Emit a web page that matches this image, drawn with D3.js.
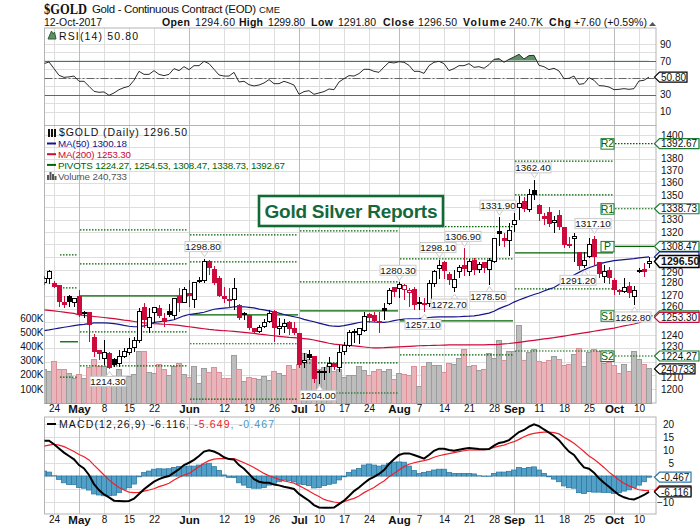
<!DOCTYPE html>
<html>
<head>
<meta charset="utf-8">
<script src="https://cdn.jsdelivr.net/npm/d3@7"></script>
<style>
  html, body { margin: 0; padding: 0; background: #fff; }
  svg { display: block; font-family: "Liberation Sans", Arial, sans-serif; }
</style>
</head>
<body>
<script>
// trading calendar
const holidays = ["2017-05-29", "2017-07-04", "2017-09-04", "2017-10-09"];
const fmtDay = d3.utcFormat("%Y-%m-%d");
const days = d3.utcDays(new Date("2017-04-20"), new Date("2017-10-13"))
  .filter(d => d.getUTCDay() % 6 !== 0 && !holidays.includes(fmtDay(d)))
  .map(fmtDay);

const tickDates = ["2017-04-24","2017-05-01","2017-05-08","2017-05-15","2017-05-22","2017-06-01","2017-06-12","2017-06-19","2017-06-26","2017-07-03","2017-07-10","2017-07-17","2017-07-24","2017-08-01","2017-08-07","2017-08-14","2017-08-21","2017-08-28","2017-09-01","2017-09-11","2017-09-18","2017-09-25","2017-10-02","2017-10-10"];
const tickLabels = ["24","May","8","15","22","Jun","12","19","26","Jul","10","17","24","Aug","7","14","21","28","Sep","11","18","25","Oct","10"];
const monthLabels = ["May","Jun","Jul","Aug","Sep","Oct"];

const priceTicks = [1200,1210,1220,1230,1240,1250,1260,1270,1280,1290,1300,1310,1320,1330,1340,1350,1360,1370,1380,1390,1400];
const priceLabelTicks = [1200,1210,1230,1240,1260,1270,1280,1290,1320,1330,1350,1360,1370,1380,1400];
const volumeTicks = [100,200,300,400,500,600];
const rsiTicks = [10,30,70,90];
const rsiGrid = [10,20,30,40,50,60,70,80,90];
const macdTicks = [-10,-5,0,5,10,15,20];
const macdLabelTicks = [-10,5,10,15,20];

const opens = [
  1280,1283,1279,1277.5,1265,1269,1264.3,1269,1257,1256.7,
  1237.9,1228,1222.2,1225.9,1221.4,1218.5,1223.6,1226.6,1230.4,1235.6,
  1260.6,1245.5,1256.7,1259.8,1252.2,1257.5,1254.5,1269,1264.3,1271.3,
  1266.6,1281.4,1281.4,1296.2,1290,1283,1269,1265.9,1266.6,1262.1,
  1256.3,1254.5,1244.7,1242.4,1246.2,1250,1257.5,1244.7,1246.2,1249.2,
  1244.7,1240.9,1219.2,1225.1,1223.6,1212.5,1212.5,1216.2,1218.5,1215.5,
  1227.3,1231.9,1241.6,1240.1,1243.2,1255.2,1254.5,1250,1259.8,1263.6,
  1276,1275.2,1274.4,1272,1274.4,1264.6,1263.6,1263.6,1279.1,1290.8,
  1295.5,1286.1,1276,1288.4,1293.1,1288.4,1297,1290,1295.5,1290,
  1296.2,1320.1,1314.5,1312.9,1325.8,1339.5,1344.3,1337.9,1353.4,1341.1,
  1332.2,1335.4,1327.4,1333,1323.3,1309.6,1314.5,1304,1293.1,1300.2,
  1313.7,1295.5,1284.5,1289.2,1281.4,1273.6,1272.8,1276.8,1269,1289.6,
  1290,1294.6];
const highs = [
  1285,1290,1281,1278,1269.7,1270.5,1268.2,1274.4,1258.2,1257.5,
  1240.9,1228,1236.4,1227.3,1222.9,1228.8,1230.4,1237.9,1238.6,1260.6,
  1264.3,1260.6,1261.3,1262.8,1256.7,1263.6,1268.2,1276,1276.8,1282.2,
  1280.6,1284.5,1298.8,1297.8,1293.1,1285.3,1276.8,1276,1283.8,1263.6,
  1257.5,1255.2,1245.5,1247.7,1252.2,1259,1259,1253,1252.2,1250.7,
  1250,1241.6,1226.6,1228.8,1223.6,1214,1216.2,1223.6,1219.2,1232.6,
  1234.9,1243.9,1244.7,1245.5,1257.5,1256.7,1257.5,1257.5,1264.3,1276,
  1276.8,1280.3,1279.1,1276,1276.8,1269,1268.2,1282.2,1290,1298.1,
  1297,1288.4,1290,1293.9,1306.9,1298.6,1299.4,1296.2,1296.2,1299.4,
  1315.3,1331.9,1319.3,1327.4,1335.4,1349.2,1348.4,1355,1362.4,1342.7,
  1335.4,1340.3,1333,1337.9,1323.3,1316.1,1319.3,1304,1304,1315.3,
  1317.1,1296.2,1293.9,1292.4,1283.8,1275.2,1283.8,1280.6,1277.5,1291.6,
  1295.5,1299.8];
const lows = [
  1278,1279,1276,1261.5,1260.6,1261.3,1261.3,1253.7,1253,1234.9,
  1223.6,1221.4,1217.7,1214.3,1216.2,1216.2,1222.9,1225.1,1227.3,1234.1,
  1245.5,1241.6,1249.2,1253,1246.2,1253.7,1251.5,1257.5,1264.3,1261.3,
  1260.6,1279.9,1279.9,1285.9,1278.3,1268.9,1264.3,1260.6,1259,1251.5,
  1251.5,1243.9,1241.6,1241.6,1245.5,1249.2,1234.9,1240.1,1241.6,1240.1,
  1240.1,1215.5,1215.5,1221.4,1204.3,1204,1206.5,1211.8,1214,1212.5,
  1225.1,1231.1,1234.1,1233.4,1242.4,1249.2,1250,1241.6,1251.5,1262.9,
  1268.9,1268.2,1266.6,1261.3,1259,1259,1257.1,1261.3,1276.8,1283,
  1283,1278.3,1272.7,1283.8,1285.3,1285.3,1286.1,1287.6,1287.6,1278.5,
  1295.5,1308.8,1308,1300.9,1320.1,1329.8,1336.2,1336.2,1345.9,1329,
  1325.8,1324.2,1319.3,1321.7,1307.2,1307.2,1296.2,1290,1291.2,1299.4,
  1293.9,1283.8,1280,1279.1,1270.5,1270.5,1272,1268.2,1262.8,1287.6,
  1284.5,1291.8];
const closes = [
  1283,1288.4,1276.8,1265.8,1262.8,1265.1,1267.4,1255.2,1256,1247.7,
  1227.3,1225.9,1226.6,1215.5,1217.7,1223.6,1227.3,1229.6,1235.6,1257.5,
  1251.5,1253,1260.6,1254.5,1250,1255.2,1267.4,1264.3,1274.4,1269.7,
  1279.9,1280.6,1296.2,1291.6,1279.9,1269.7,1267.4,1267,1275.2,1253,
  1255.6,1245.5,1242.4,1245.5,1249.2,1256,1245.5,1246.2,1248.5,1244.7,
  1241.6,1217.7,1220.6,1222.9,1208,1211.8,1212,1218.5,1216.2,1226.6,
  1231.9,1241.6,1242.4,1244.7,1253.7,1253,1250.7,1249.2,1258.2,1273.6,
  1272.8,1278.3,1277.5,1273.6,1262.8,1263.6,1262.8,1279.1,1288.4,1293.1,
  1289.2,1282.2,1282.2,1291.6,1290.8,1296.2,1290,1293.9,1291.6,1297,
  1314.5,1318.5,1312.9,1320.9,1329,1342.7,1338.7,1350,1350.4,1334.6,
  1330.6,1326.6,1329,1324.2,1309.6,1308.8,1316.1,1293.1,1297,1309.6,
  1300.2,1286.9,1288.4,1283.8,1274.4,1272.8,1276,1272,1273.6,1289.1,
  1288.9,1296.5];
// thousands
const volumes = [
  240,220,290,240,236,205,172,198,172,248,
  304,260,255,175,172,234,186,186,198,363,
  363,212,205,269,240,191,255,278,198,179,
  255,135,243,212,248,212,172,172,333,240,
  149,177,170,165,184,156,222,205,196,262,
  236,269,349,307,182,236,250,262,222,240,
  177,195,195,255,229,196,224,236,219,236,
  165,205,203,196,260,120,260,283,264,264,
  217,278,269,312,378,255,262,227,240,347,
  314,441,300,361,366,547,300,354,378,290,
  283,300,326,307,264,271,340,382,255,354,
  378,366,276,283,267,205,271,219,363,307,
  269,240.7];
const ma50 = [
  1243.2,1243.8,1244.5,1245.2,1245.8,1246.4,1247,1247.6,1248,1248.6,
  1249.2,1249.2,1249.2,1248.9,1248.5,1248,1247.2,1246.6,1246.2,1246.2,
  1246.8,1248,1249.5,1250,1250.4,1250.8,1251.5,1253,1254.5,1255.5,
  1256,1256.5,1257.2,1258.4,1259.5,1260,1260.4,1260.8,1261.4,1261.6,
  1261.4,1261,1260.5,1259.6,1259,1258.3,1257.5,1256.5,1255.5,1254.6,
  1253.8,1253,1251.8,1250.8,1250,1249,1248,1247.1,1246.6,1246.5,
  1247,1247.8,1248.6,1249.4,1250,1250,1249.8,1249.5,1249.5,1250,
  1250.8,1251.5,1252,1252.2,1252.2,1252.4,1252.8,1253.2,1253.5,1253.7,
  1253.7,1253.7,1253.7,1253.8,1254,1254.2,1254.5,1255,1255.8,1256.6,
  1258,1260,1261.5,1263,1265,1266.6,1268,1269.5,1270.8,1272,
  1273.5,1275,1276.2,1278.5,1281,1283.5,1286,1288,1290,1291.6,
  1293,1294.5,1295.6,1296.4,1297.2,1297.6,1298,1298.4,1298.8,1299.4,
  1299.8,1300.18];
const ma200 = [
  1259,1258.6,1258.2,1257.8,1257.3,1256.8,1256.3,1255.2,1254.8,1254.4,
  1254,1253.6,1253.2,1252.8,1252.3,1251.8,1251.2,1250.8,1250.2,1249.6,
  1249.2,1248.9,1248.6,1248.4,1248.1,1247.9,1247.6,1247.2,1246.7,1246.2,
  1245.7,1245.2,1244.7,1244.2,1243.8,1243.5,1243.2,1243,1242.7,1242.4,
  1242,1241.6,1241.2,1240.6,1240.2,1239.8,1239.4,1239,1238.6,1238.2,
  1238,1237.7,1237.3,1236.9,1236.2,1235.4,1234.6,1233.8,1233.2,1232.8,
  1232.4,1232.2,1231.8,1231.4,1231,1230.6,1230.4,1230.4,1230.5,1230.7,
  1230.9,1231.1,1231.3,1231.5,1231.7,1231.9,1232,1232.1,1232.2,1232.3,
  1232.4,1232.5,1232.6,1232.6,1232.6,1232.6,1232.6,1232.6,1232.6,1232.7,
  1232.8,1233,1233.3,1233.6,1234,1234.5,1235,1235.5,1236,1236.5,
  1237,1237.5,1238,1238.6,1239.2,1239.8,1240.4,1241,1241.6,1242.2,
  1242.8,1243.4,1244,1244.6,1245.2,1246,1246.8,1247.5,1248.3,1249.2,
  1251,1253.3];
const rsi = [
  66.7,68.7,60.8,52.9,50.5,51,52,45.8,45.8,39.9,
  33.9,32.8,33.2,29.2,32,35.9,38.3,39.9,47,57.6,
  54,54,58.4,54,52.5,54,60.8,58.4,63.1,59.6,
  64.3,64.3,69.4,66.7,60,53.3,52,52,56.4,45,
  45.8,41.8,40.3,41.4,43.8,47.8,43,43,45.8,43.8,
  41.4,30.4,33.6,34.7,30.4,32,33.6,36.7,35.9,45,
  48.9,52.5,52,54.9,60,60,57.6,56.4,62.7,68.3,
  67.5,69,68.3,64.7,57.6,57.6,55.2,64.3,68.3,69.4,
  66.7,58.4,60.8,64.3,64.3,66.7,62.3,63.1,61.2,65.5,
  71.8,72.6,68.3,71.8,74.6,77.7,72.2,76.2,76.5,64.7,
  63.1,59.6,61.2,58,48.9,49.3,52,42.2,43,50.1,
  47,40.7,40.3,39,35.9,36.3,37.1,36.3,37.1,46.2,
  47,50.8];
const macd = [
  13.6,13.6,12.2,10.6,9,7.7,6.4,4.2,2.9,0.4,
  -3.1,-5.4,-7.1,-8.2,-9.5,-9.6,-9.7,-9.6,-8.7,-6.9,
  -5.1,-3.6,-2.2,-1.2,-0.5,0,1.3,2.6,4.2,5.1,
  6.2,7.7,9.4,9.9,9.4,8.5,7.2,6.5,6.3,4.2,
  2.8,0.8,-1.2,-2.2,-2.6,-2.6,-3.3,-3.6,-4.1,-4.5,
  -5,-6.9,-8.2,-9.5,-11.2,-12.1,-12.2,-12.2,-12.1,-10.8,
  -9.5,-7.7,-5.8,-4.4,-2.8,-1.3,-0.3,0.8,2.3,4.6,
  6.4,8.1,8.7,8.7,8.1,7.4,6.7,8.1,9.7,10.5,
  10.5,10,9.7,10.1,10.5,10.8,10.6,10.4,10.3,10.4,
  11.7,12.7,13.1,13.8,15.4,16.9,17.7,19,19.9,19.2,
  17.9,16.7,15.4,13.8,11.5,9.4,8.1,5.5,3.3,2.8,
  1.3,-0.9,-2.6,-4.1,-5.8,-7.3,-8.2,-8.8,-9,-8.2,
  -7.3,-6.116];
const macdSignal = [
  11.5,11.9,12.2,11.9,11.3,10.4,9.4,8.3,7.4,6.2,
  4.2,2.3,0.4,-1.5,-3.1,-4.4,-5.4,-6.2,-6.4,-6.3,
  -5.8,-5.4,-4.9,-4.1,-3.5,-2.8,-1.5,-0.5,0.4,1,
  2.3,3.6,4.9,5.9,6.5,6.7,6.7,6.7,6.7,5.9,
  5.1,4.2,3.3,2.1,1,0.1,-0.6,-1.3,-1.9,-2.3,
  -2.8,-3.7,-4.7,-5.8,-6.9,-7.9,-9,-9.6,-10,-10.3,
  -9.9,-9.2,-8.6,-7.7,-6.4,-5.4,-4.4,-3.1,-1.9,-0.3,
  1,2.3,3.6,4.5,5.1,5.5,5.9,6.4,7.2,7.8,
  8.2,8.6,9,9.4,9.7,10,10,10,10.1,10.3,
  11,11.5,11.9,12.6,13.2,14.1,15.1,15.9,16.4,16.7,
  16.9,16.9,16.7,16.2,14.9,13.8,12.6,11,9.4,7.7,
  6.4,4.9,3.3,1.5,0,-1.5,-2.8,-3.8,-4.6,-5.3,
  -5.5,-5.649];
const macdHist = [
  1.9,1.5,0.1,-1.3,-2.6,-3.3,-3.3,-4.4,-4.7,-5.4,
  -6.9,-7.3,-7.6,-7.6,-7.4,-6.4,-5.1,-4.5,-3.1,-0.3,
  1.3,1.9,2.6,2.8,2.7,2.8,3.3,3.6,3.6,3.8,
  3.8,4.2,4.6,4.9,3.6,2.1,0.4,-0.5,-0.6,-2.6,
  -3.5,-4.4,-4.7,-4.7,-4.4,-3.5,-2.8,-2.2,-1.5,-1.8,
  -2.3,-3.1,-3.3,-3.7,-4.6,-4.4,-3.7,-3.2,-2.8,-1.5,
  -0.3,1.4,2.3,2.9,4.2,4.6,4.2,3.8,4.2,4.9,
  5.3,5.4,5.3,3.8,2.1,1,1.4,1.8,2.3,2.6,
  2.6,1.4,1,1,1,1,0.8,0.1,-0.1,-0.1,
  1,1.5,1.5,1.8,2.3,3.3,2.9,3.3,3.5,2.3,
  1,-0.3,-1.2,-2.2,-3.8,-4.5,-4.7,-6.4,-6.7,-6,
  -6.2,-6.2,-6.3,-6.3,-6.7,-6.4,-5.8,-5.3,-4.4,-3.5,
  -2.2,-0.467];

// monthly pivot levels
const pivotStarts = ["2017-04-25","2017-05-01","2017-06-01","2017-07-03","2017-08-01","2017-09-01","2017-10-02"];
const pivotR2 = [1301.7,1321.7,1317.7,1320.9,1324.2,1378,1392.67];
const pivotR1 = [1276,1294.7,1296.2,1280.6,1298.6,1350,1338.73];
const pivotP  = [1234.9,1269.7,1255.2,1258.2,1250.7,1303.3,1308.47];
const pivotS1 = [1208.7,1242.4,1233.4,1219.2,1225.1,1275.2,1254.53];
const pivotS2 = [null,1217,1192.7,1197.1,null,1228,1224.27];

const peakDates = ["2017-06-06","2017-05-09","2017-07-10","2017-08-01","2017-08-08","2017-08-11","2017-08-18","2017-08-16","2017-08-25","2017-08-29","2017-09-08","2017-09-26","2017-09-22","2017-10-06"];
const peakTexts = ["1298.80","1214.30","1204.00","1280.30","1257.10","1298.10","1306.90","1272.70","1278.50","1331.90","1362.40","1317.10","1291.20","1262.80"];

// geometry of the panels
const W = 700, H = 530, L = 44.5, R = 656;
const rsiTop = 28, rsiBot = 125.5, priceBot = 403, macdTop = 417, macdBot = 514;

const x = d3.scalePoint().domain(days).range([44, 649]);
const yP = d3.scaleLog().domain([1200, 1400]).range([389, 135]);
const yV = d3.scaleLinear().domain([0, 600]).range([priceBot, 318]);
const yR = d3.scaleLinear().domain([0, 100]).range([120, 35.5]);
const yM = d3.scaleLinear().domain([-10, 20]).range([502, 424]);

const svg = d3.select("body").append("svg").attr("width", W).attr("height", H);
const crimson = "#cc0a3c", navy = "#14148c", green = "#006400";

// clip for everything inside the panels
const defs = svg.append("defs");
defs.append("clipPath").attr("id", "plot").append("rect").attr("x", L).attr("y", 0).attr("width", R - L).attr("height", H);
defs.append("clipPath").attr("id", "over70").append("rect").attr("x", L).attr("y", 0).attr("width", R - L).attr("height", yR(70));

function frame(top, bottom, hticks, yS) {
  const g = svg.append("g");
  g.selectAll(".h").data(hticks).join("line")
    .attr("x1", L).attr("x2", R).attr("y1", d => Math.round(yS(d)) + .5).attr("y2", d => Math.round(yS(d)) + .5)
    .attr("stroke", "#dedede");
  g.selectAll(".v").data(tickDates).join("line")
    .attr("x1", d => x(d) + .5).attr("x2", d => x(d) + .5).attr("y1", top).attr("y2", bottom)
    .attr("stroke", (d, i) => monthLabels.includes(tickLabels[i]) ? "#bcbcbc" : "#dedede");
  g.append("rect").attr("x", L).attr("y", top).attr("width", R - L).attr("height", bottom - top)
    .attr("fill", "none").attr("stroke", "#b4b4b4");
}
frame(rsiTop, rsiBot, rsiGrid, yR);
frame(rsiBot, priceBot, priceTicks, yP);
frame(macdTop, macdBot, macdTicks, yM);

// header
const head = svg.append("g").attr("fill", "#111");
head.append("text").attr("x", 44).attr("y", 14).attr("font-family", "Liberation Serif").attr("font-weight", "bold")
  .attr("font-size", 15).attr("textLength", 43).attr("lengthAdjust", "spacingAndGlyphs").text("$GOLD");
head.append("text").attr("x", 92).attr("y", 13).attr("font-size", 11.5).attr("textLength", 164).text("Gold - Continuous Contract (EOD)");
head.append("text").attr("x", 259).attr("y", 13).attr("font-size", 9.5).attr("textLength", 21).text("CME");
head.append("text").attr("x", 44).attr("y", 26).attr("font-size", 10.5).attr("textLength", 58).text("12-Oct-2017");
const quoteStarts = [162, 195, 239, 268, 311, 338, 383, 418, 463, 509, 549, 574];
const quoteEnds = [190, 235, 263, 305, 333, 376, 414, 457, 506, 543, 571, 647];
const quoteTexts = ["Open","1294.60","High","1299.80","Low","1291.80","Close","1296.50","Volume","240.7K","Chg","+7.60 (+0.59%)"];
head.selectAll(".q").data(quoteTexts).join("text")
  .attr("x", (d, i) => quoteStarts[i]).attr("y", 26).attr("font-size", 10.5)
  .attr("textLength", (d, i) => quoteEnds[i] - quoteStarts[i])
  .attr("font-weight", (d, i) => i % 2 || i === 11 ? "normal" : "bold").text(d => d);
head.append("path").attr("d", "M649 26 L652.5 22 L656 26 Z").attr("fill", "#555");

// volume bars
const volG = svg.append("g").attr("shape-rendering", "crispEdges").attr("clip-path", "url(#plot)");
volG.selectAll("rect").data(days).join("rect")
  .attr("x", d => x(d) - 2.5).attr("width", 5)
  .attr("y", (d, i) => yV(volumes[i])).attr("height", (d, i) => priceBot - yV(volumes[i]))
  .attr("fill", (d, i) => i && closes[i] < closes[i - 1] ? "#e8b6ba" : "#bdbdbd")
  .attr("stroke", (d, i) => i && closes[i] < closes[i - 1] ? "#dc8f98" : "#9c9c9c");

// pivots
const pivotSets = [["R2", pivotR2], ["R1", pivotR1], ["P", pivotP], ["S1", pivotS1], ["S2", pivotS2]];
const pivG = svg.append("g");
pivotSets.forEach(([name, vals]) => {
  pivotStarts.forEach((s, i) => {
    if (vals[i] == null) return;
    const last = i === pivotStarts.length - 1;
    const x2 = last ? R - 2 : x(pivotStarts[i + 1]) - 1;
    pivG.append("line").attr("x1", x(s) + 1).attr("x2", x2)
      .attr("y1", yP(vals[i])).attr("y2", yP(vals[i]))
      .attr("stroke", green).attr("stroke-width", name === "P" ? 1.3 : 1.2)
      .attr("stroke-dasharray", name === "P" ? null : "1.5,1.5");
    if (last) {
      pivG.append("rect").attr("x", x(s) - 13).attr("y", yP(vals[i]) - 5).attr("width", 13).attr("height", 10.5)
        .attr("fill", "#fff").attr("stroke", "#1d7a33");
      pivG.append("text").attr("x", x(s) - 6.5).attr("y", yP(vals[i]) + 3.8).attr("text-anchor", "middle")
        .attr("font-size", 10.5).attr("fill", green).text(name);
    }
  });
});

// moving averages
const lineOf = (vals, y) => d3.line().x((d, i) => x(days[i])).y(d => y(d))(vals);
const maG = svg.append("g").attr("clip-path", "url(#plot)").attr("fill", "none");
maG.append("path").attr("d", lineOf(ma200, yP)).attr("stroke", crimson).attr("stroke-width", 1.2);
maG.append("path").attr("d", lineOf(ma50, yP)).attr("stroke", navy).attr("stroke-width", 1.2);

// candles
const candG = svg.append("g").attr("clip-path", "url(#plot)").attr("shape-rendering", "crispEdges");
const candle = candG.selectAll("g").data(days).join("g");
const candleColor = i => i && closes[i] < closes[i - 1] ? crimson : "#000";
candle.append("line")
  .attr("x1", d => x(d) + .5).attr("x2", d => x(d) + .5)
  .attr("y1", (d, i) => yP(highs[i])).attr("y2", (d, i) => yP(lows[i]))
  .attr("stroke", (d, i) => candleColor(i));
candle.append("rect")
  .attr("x", d => x(d) - 1.5).attr("width", 4)
  .attr("y", (d, i) => yP(Math.max(opens[i], closes[i])))
  .attr("height", (d, i) => Math.max(1, Math.abs(yP(opens[i]) - yP(closes[i]))))
  .attr("fill", (d, i) => closes[i] < opens[i] ? candleColor(i) : "#fff")
  .attr("stroke", (d, i) => candleColor(i));

// high / low callouts
const peakG = svg.append("g");
const nudge = { "1291.20": -5, "1272.70": -4 };
peakDates.forEach((d, k) => {
  const i = days.indexOf(d);
  const txt = peakTexts[k];
  const isHigh = Math.abs(highs[i] - +txt) < Math.abs(lows[i] - +txt);
  const tip = isHigh ? yP(highs[i]) : yP(lows[i]);
  const cx = x(d) - 1 + (nudge[txt] || 0);
  const top = isHigh ? tip - 17 : tip + 7;
  peakG.append("path")
    .attr("d", `M${x(d) - 3} ${isHigh ? top + 10 : top} L${x(d) + .5} ${isHigh ? top + 15 : top - 5} L${x(d) + 4} ${isHigh ? top + 10 : top} Z`)
    .attr("fill", "#fff").attr("stroke", "#ccc");
  peakG.append("rect").attr("x", cx - 18).attr("y", top).attr("width", 36).attr("height", 10)
    .attr("fill", "#fff").attr("stroke", "#ccc");
  peakG.append("text").attr("x", cx).attr("y", top + 8.6).attr("text-anchor", "middle")
    .attr("font-size", 9.8).attr("fill", "#111").text(txt);
});

// watermark
const wm = svg.append("g");
wm.append("rect").attr("x", 259).attr("y", 196).attr("width", 184).attr("height", 30)
  .attr("fill", "#fff").attr("stroke", "#0f6b33").attr("stroke-width", 2.6);
wm.append("text").attr("x", 351).attr("y", 218).attr("text-anchor", "middle")
  .attr("font-size", 19).attr("font-weight", "bold").attr("fill", "#15683c")
  .attr("textLength", 173).text("Gold Silver Reports");

// RSI
const rsiG = svg.append("g").attr("clip-path", "url(#plot)");
rsiG.append("path").attr("clip-path", "url(#over70)")
  .attr("d", d3.area().x((d, i) => x(days[i])).y0(yR(70)).y1(d => yR(d))(rsi))
  .attr("fill", "#5f8f68");
[70, 30].forEach(v => rsiG.append("line").attr("x1", L).attr("x2", R).attr("y1", Math.round(yR(v)) + .5).attr("y2", Math.round(yR(v)) + .5).attr("stroke", "#666"));
rsiG.append("line").attr("x1", L).attr("x2", R).attr("y1", Math.round(yR(50)) + .5).attr("y2", Math.round(yR(50)) + .5)
  .attr("stroke", "#666").attr("stroke-dasharray", "8,2,2,2");
rsiG.append("path").attr("d", lineOf(rsi, yR)).attr("fill", "none").attr("stroke", "#2b2b2b").attr("stroke-width", 1);

// MACD
const macdG = svg.append("g").attr("clip-path", "url(#plot)");
macdG.selectAll("rect").data(days).join("rect")
  .attr("x", d => x(d) - 2.5).attr("width", 5)
  .attr("y", (d, i) => Math.min(yM(0), yM(macdHist[i])))
  .attr("height", (d, i) => Math.abs(yM(macdHist[i]) - yM(0)))
  .attr("fill", "#52a0c8").attr("stroke", "#2f7ba3").attr("stroke-width", .8);
macdG.append("path").attr("d", lineOf(macdSignal, yM)).attr("fill", "none").attr("stroke", "#f0202a").attr("stroke-width", 1.2);
macdG.append("path").attr("d", lineOf(macd, yM)).attr("fill", "none").attr("stroke", "#000").attr("stroke-width", 2);

// axes
function cleanAxis(g) {
  g.select(".domain").remove();
  g.selectAll(".tick line").remove();
  g.selectAll("text").attr("fill", "#111");
  g.attr("font-family", null);
}
// labels next to the tags sit a little off their gridline, as in the original
const labelShift = { 1210: 2, 1230: -2, 1260: -2, 1290: 2 };
svg.append("g").attr("transform", "translate(657,0)").attr("font-size", 10)
  .call(d3.axisRight(yP).tickValues(priceLabelTicks).tickFormat(d3.format("d")).tickSize(0).tickPadding(4)).call(cleanAxis)
  .selectAll("text").attr("y", d => labelShift[d] || 0);
svg.append("g").attr("transform", `translate(${L - 1},0)`).attr("font-size", 11)
  .call(d3.axisLeft(yV).tickValues(volumeTicks).tickFormat(d => d + "K").tickSize(0).tickPadding(0)).call(cleanAxis);
svg.append("g").attr("transform", "translate(657,0)").attr("font-size", 10.5)
  .call(d3.axisRight(yR).tickValues(rsiTicks).tickSize(0).tickPadding(3)).call(cleanAxis);
svg.append("g").attr("transform", "translate(674,0)").attr("font-size", 10.5)
  .call(d3.axisLeft(yM).tickValues(macdLabelTicks).tickSize(0).tickPadding(0)).call(cleanAxis);

function dateAxis(y) {
  svg.append("g").attr("transform", `translate(0,${y})`).attr("font-size", 10.5)
    .call(d3.axisBottom(x).tickValues(tickDates).tickFormat((d, i) => tickLabels[i]).tickSize(0).tickPadding(2))
    .call(cleanAxis)
    .selectAll("text").filter(t => monthLabels.includes(tickLabels[tickDates.indexOf(t)]))
    .attr("font-weight", "bold").attr("font-size", 11.5);
}
dateAxis(priceBot);
dateAxis(macdBot);

// value tags at the right edge
function tag(y, text, color, right, opts) {
  const o = opts || {};
  const g = svg.append("g");
  const h = o.bold ? 6 : 5;
  g.append("path").attr("d", `M654.5 ${y} L659.5 ${y - h} L${right} ${y - h} L${right} ${y + h} L659.5 ${y + h} Z`)
    .attr("fill", "#fff").attr("stroke", color).attr("stroke-width", o.bold ? 1.5 : 1.2);
  if (text) g.append("text").attr("x", 661).attr("y", y + 3.7).attr("font-size", o.bold ? 10.6 : 10)
    .attr("font-weight", o.bold ? "bold" : null).attr("fill", "#111").text(text);
}
tag(yP(1392.67), "1392.67", "#1d7a33", 699);
tag(yP(1338.73), "1338.73", "#1d7a33", 699);
tag(yP(1308.47), "1308.47", "#1d7a33", 699);
tag(yP(1300.18), null, navy, 699);
tag(yP(1296.5), "1296.50", "#000", 699, { bold: true });
tag(yP(1254.53), null, "#1d7a33", 699);
tag(yP(1253.3), "1253.30", crimson, 699);
tag(yP(1224.27), "1224.27", "#1d7a33", 699);
tag(yV(240.733), "240733", "#000", 695);
tag(yR(50.8), "50.80", "#000", 687);
tag(yM(-0.467), "-0.467", "#2f7ba3", 691);
tag(yM(-5.649), null, "#f0202a", 691);
tag(yM(-6.116), "-6.116", "#000", 691);

// legends
const leg = svg.append("g");
leg.append("path").attr("d", "M48 39 L51.5 31 L53 34 L54.5 32 L56 39 Z").attr("fill", "#5f8f68").attr("stroke", "#2e5e3a");
leg.append("text").attr("x", 59).attr("y", 39.5).attr("font-size", 10.5).attr("textLength", 79).attr("fill", "#111").text("RSI(14) 50.80");

leg.append("path").attr("d", "M49 129 V137 M52 129 V137 M55 129 V137").attr("stroke", "#111").attr("stroke-width", 2);
leg.append("text").attr("x", 59).attr("y", 136).attr("font-size", 10.5).attr("textLength", 128).attr("fill", "#111").text("$GOLD (Daily) 1296.50");

const legendRows = ["MA(50) 1300.18", "MA(200) 1253.30", "PIVOTS 1224.27, 1254.53, 1308.47, 1338.73, 1392.67"];
const legendColors = [navy, crimson, green];
const legendLens = [69, 73, 227];
legendRows.forEach((t, i) => {
  const y = 143.5 + 10.7 * i;
  leg.append("line").attr("x1", 47).attr("x2", 56).attr("y1", y).attr("y2", y).attr("stroke", legendColors[i]).attr("stroke-width", 2);
  leg.append("text").attr("x", 58).attr("y", y + 3.8).attr("font-size", 9.8)
    .attr("textLength", legendLens[i]).attr("fill", legendColors[i]).text(t);
});
leg.append("path").attr("d", "M48 180 V175 M50.5 180 V172 M53 180 V174 M55.5 180 V176").attr("stroke", "#555").attr("stroke-width", 2);
leg.append("text").attr("x", 58).attr("y", 179.5).attr("font-size", 9.8).attr("textLength", 69).attr("fill", "#555").text("Volume 240,733");

leg.append("line").attr("x1", 47).attr("x2", 56).attr("y1", 424).attr("y2", 424).attr("stroke", "#000").attr("stroke-width", 2);
const macdLegend = leg.append("text").attr("x", 59).attr("y", 428).attr("font-size", 10.5).attr("textLength", 215);
macdLegend.append("tspan").attr("fill", "#111").text("MACD(12,26,9) -6.116");
macdLegend.append("tspan").attr("fill", "#f0202a").text(", -5.649");
macdLegend.append("tspan").attr("fill", "#3d9ac6").text(", -0.467");
</script>
</body>
</html>
